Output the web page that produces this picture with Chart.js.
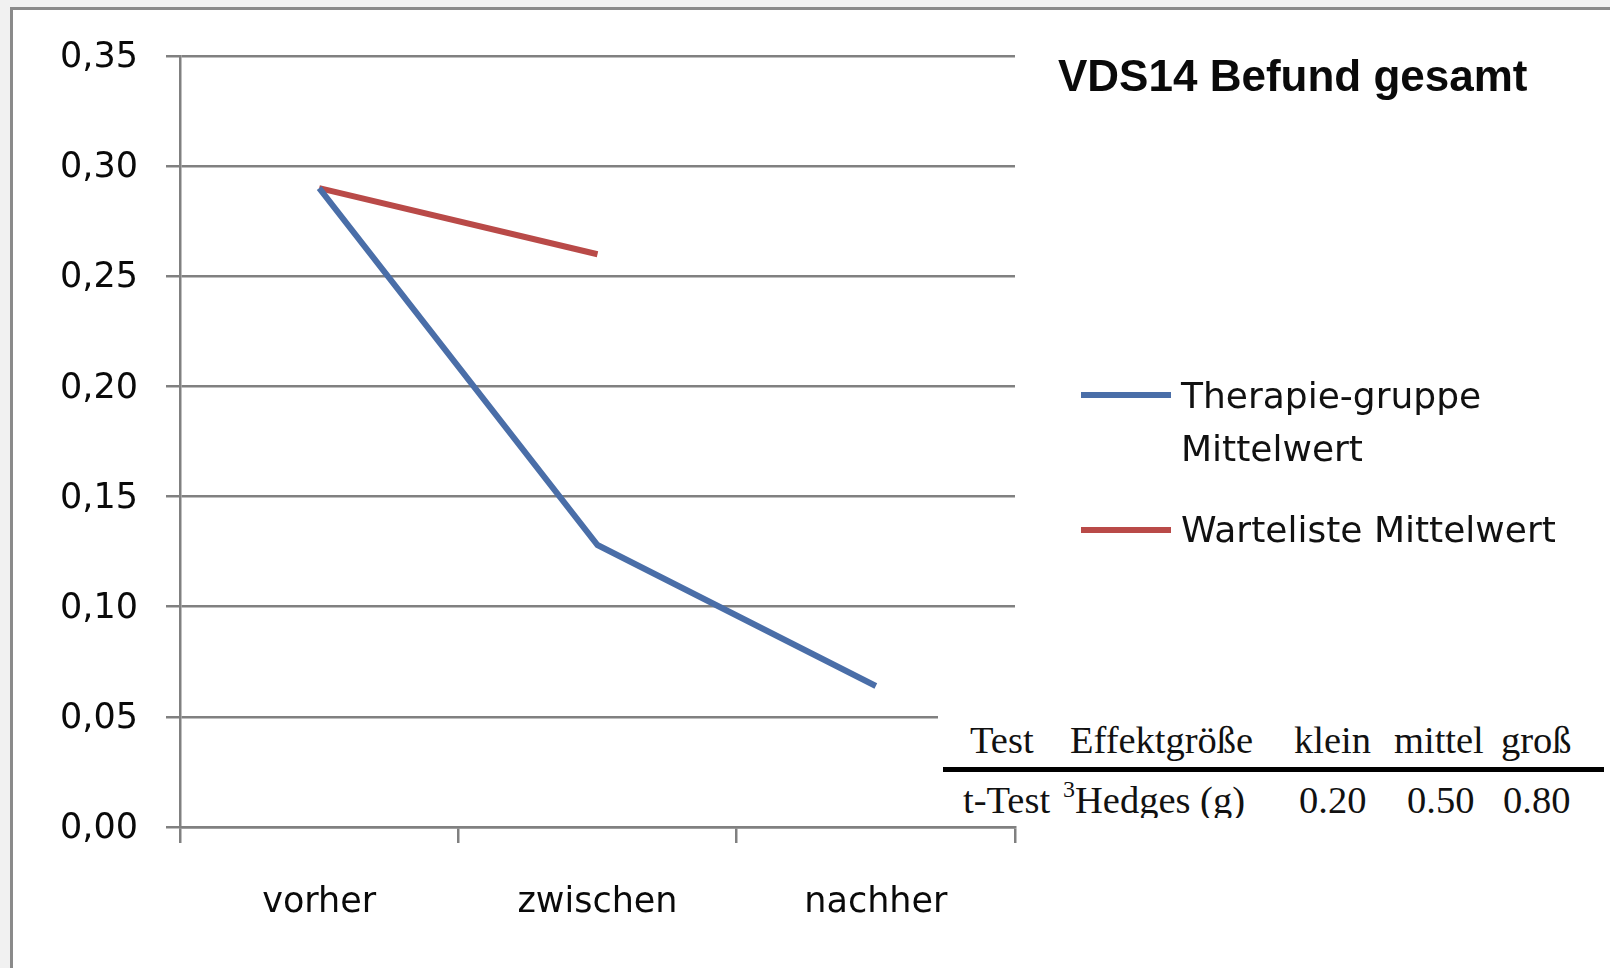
<!DOCTYPE html>
<html>
<head>
<meta charset="utf-8">
<script src="https://cdn.jsdelivr.net/npm/chart.js@4"></script>
<style>
  body { margin: 0; width: 1610px; height: 968px; background: #f1f1f1; overflow: hidden; position: relative; }
  #frame { position: absolute; left: 10px; top: 7px; right: -10px; bottom: -10px; background: #fff;
           border-left: 3px solid #8a8a8a; border-top: 3px solid #8a8a8a; }
  #myChart { position: absolute; left: 0; top: 0; }
  .t { position: absolute; white-space: nowrap; }
  #title { left: 1058px; top: 54px; font: bold 44px "Liberation Sans", Arial, sans-serif; line-height: 43px; color: #0a0a0a; }
  .leg { font: 36px "DejaVu Sans", sans-serif; line-height: 36px; color: #111; }
  .legline { position: absolute; height: 6px; width: 90px; left: 1081px; }
  #tbl { position: absolute; left: 938px; top: 705px; width: 672px; height: 113px; background: #fff; overflow: hidden; }
  #tbl .t { font: 38.5px "Liberation Serif", "Times New Roman", serif; line-height: 38.5px; color: #111; }
  #tbl .rule { position: absolute; left: 5px; top: 62px; width: 661px; height: 5px; background: #000; }
  sup { font-size: 24px; vertical-align: 0; position: relative; top: -16px; }
</style>
</head>
<body>
<div id="frame"></div>
<canvas id="myChart" width="1610" height="968"></canvas>

<div id="title" class="t">VDS14 Befund gesamt</div>

<div class="legline" style="top:392px; background:#4a6ea8;"></div>
<div class="t leg" style="left:1181px; top:378px;">Therapie-gruppe</div>
<div class="t leg" style="left:1181px; top:431px;">Mittelwert</div>
<div class="legline" style="top:527px; background:#b94a48;"></div>
<div class="t leg" style="left:1181px; top:512px;">Warteliste Mittelwert</div>

<div id="tbl"></div>

<script>
const labels = ["vorher", "zwischen", "nachher"];
const therapie = [0.29, 0.128, 0.064];
const warteliste = [0.29, 0.26, null];
const seriesNames = ["Therapie-gruppe Mittelwert", "Warteliste Mittelwert"];

const tableHead = ["Test", "Effektgröße", "klein", "mittel", "groß"];
const tableRow = ["t-Test", "Hedges (g)", "0.20", "0.50", "0.80"];

// table from the picture (html overlay)
const headX = [32, 132, 356, 456, 563];
const rowX = [25, 135, 361, 469, 565];
const tbl = document.getElementById("tbl");
tableHead.forEach((txt, i) => {
  const d = document.createElement("div");
  d.className = "t";
  d.style.left = headX[i] + "px";
  d.style.top = (753 - 705 - 32) + "px";
  d.textContent = txt;
  tbl.appendChild(d);
});
const rule = document.createElement("div");
rule.className = "rule";
tbl.appendChild(rule);
tableRow.forEach((txt, i) => {
  const d = document.createElement("div");
  d.className = "t";
  d.style.left = rowX[i] + "px";
  d.style.top = (813 - 705 - 32) + "px";
  if (i === 1) {
    d.innerHTML = "<sup>3</sup>" + txt;
    d.style.left = (rowX[i] - 10) + "px";
  } else {
    d.textContent = txt;
  }
  tbl.appendChild(d);
});

Chart.defaults.font.family = "'DejaVu Sans', sans-serif";
Chart.defaults.color = "#0a0a0a";

const gridColor = "#808080";

new Chart(document.getElementById("myChart"), {
  type: "line",
  data: {
    labels: labels,
    datasets: [
      {
        label: seriesNames[0],
        data: therapie,
        borderColor: "#4a6ea8",
        borderWidth: 6,
        pointRadius: 0,
        tension: 0,
      },
      {
        label: seriesNames[1],
        data: warteliste,
        borderColor: "#b94a48",
        borderWidth: 6,
        pointRadius: 0,
        tension: 0,
      },
    ],
  },
  options: {
    responsive: false,
    animation: false,
    devicePixelRatio: 1,
    layout: { padding: { left: 0, right: 595, top: 56, bottom: 0 } },
    plugins: {
      legend: { display: false },
      tooltip: { enabled: false },
    },
    scales: {
      x: {
        offset: true,
        grid: { offset: true, drawOnChartArea: false, drawTicks: true, tickLength: 16, color: gridColor, lineWidth: 2.5 },
        border: { color: gridColor, width: 2.5 },
        ticks: { font: { size: 35 }, padding: 39 },
        afterFit: function (axis) { axis.height = 141; },
      },
      y: {
        min: 0,
        max: 0.35,
        grid: { color: gridColor, lineWidth: 2.5, tickLength: 14 },
        border: { color: gridColor, width: 2.5 },
        ticks: {
          stepSize: 0.05,
          font: { size: 35 },
          padding: 28,
          labelOffset: 2,
          callback: function (value) {
            return value.toFixed(2).replace(".", ",");
          },
        },
        afterFit: function (axis) { axis.width = 180; },
      },
    },
  },
});
</script>
</body>
</html>
